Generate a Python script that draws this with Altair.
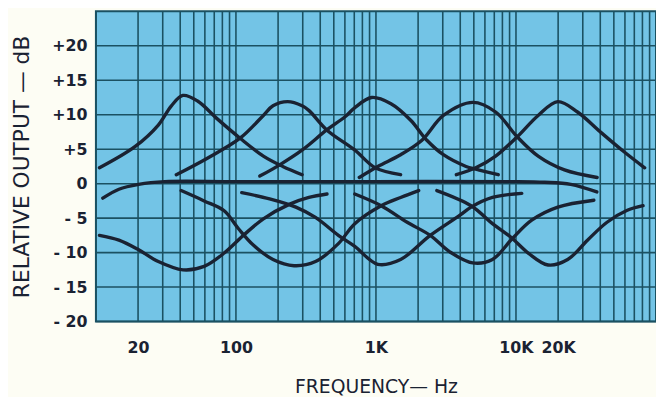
import altair as alt
import pandas as pd

# ---- curves (frequency in Hz, level in dB) ----
BOOST1_F = [10.6, 19.1, 27.9, 34.6, 41.8, 53.2, 73.6, 107, 157, 216, 297]
BOOST1_DB = [2.3, 5.4, 8.5, 11.3, 12.8, 12.0, 9.4, 6.6, 4.0, 2.5, 1.3]

BOOST2_F = [37.5, 62.5, 107, 157, 184, 234, 297, 333, 445, 704, 990, 1500]
BOOST2_DB = [1.3, 3.7, 6.6, 9.9, 11.3, 11.9, 11.3, 10.6, 7.8, 4.9, 2.3, 1.3]

BOOST3_F = [148, 204, 298, 445, 602, 704, 930, 1280, 1770, 2310, 3030, 4400, 5160, 7480]
BOOST3_DB = [1.1, 2.7, 4.9, 7.8, 9.7, 11.0, 12.5, 11.6, 9.2, 6.3, 4.2, 2.5, 2.1, 1.3]

BOOST4_F = [760, 1030, 1500, 2130, 3030, 4910, 7160, 10200, 14400, 22200, 38000]
BOOST4_DB = [0.9, 2.5, 4.2, 6.3, 9.9, 11.8, 10.4, 6.8, 4.0, 2.0, 0.9]

BOOST5_F = [3750, 5160, 7160, 10200, 14400, 19900, 27500, 40100, 58500, 83000]
BOOST5_DB = [1.3, 2.3, 4.0, 6.8, 9.9, 11.9, 10.4, 7.5, 4.7, 2.3]

FLAT_F = [11.2, 14.6, 20.2, 31, 100, 1000, 10000, 16000, 24600, 37800]
FLAT_DB = [-2.1, -0.8, -0.1, 0.3, 0.3, 0.3, 0.3, 0.2, -0.1, -1.2]

CUT1_F = [10.6, 14.6, 20.2, 27.9, 41.8, 59.3, 82, 113, 157, 240, 332, 447]
CUT1_DB = [-7.5, -8.2, -9.6, -11.3, -12.5, -12.0, -10.1, -7.5, -5.1, -3.0, -2.0, -1.5]

CUT2_F = [40.6, 59.3, 82, 104, 133, 184, 260, 370, 539, 706, 1090, 1500, 2020]
CUT2_DB = [-1.0, -2.5, -3.9, -6.5, -8.9, -11.0, -11.9, -11.3, -8.7, -5.8, -3.2, -2.0, -1.0]

CUT3_F = [110, 174, 268, 370, 539, 706, 1030, 1500, 2440, 3960, 4780, 6790, 11000]
CUT3_DB = [-1.3, -2.2, -3.4, -4.9, -7.5, -9.1, -11.7, -11.0, -7.5, -4.6, -3.4, -2.0, -1.4]

CUT4_F = [706, 1090, 1670, 2440, 3370, 4910, 6790, 9380, 12950, 19900, 36000]
CUT4_DB = [-1.5, -3.2, -5.6, -7.5, -9.9, -11.5, -11.0, -8.0, -5.3, -3.4, -2.4]

CUT5_F = [2720, 4780, 6790, 9120, 12300, 16960, 23400, 32400, 44700, 61800, 80800]
CUT5_DB = [-1.0, -3.2, -5.8, -7.7, -10.1, -11.8, -11.0, -8.2, -5.6, -3.9, -3.2]

# grid of the log paper
VGRID = [m * d for d in (10, 100, 1000, 10000) for m in range(1, 10)] + [100000]
HGRID = [-20, -15, -10, -5, 0, 5, 10, 15, 20]
XTICKS = [20, 100, 1000, 10000, 20000]
YTICKS = [-20, -15, -10, -5, 0, 5, 10, 15, 20]

curves = {
    "boost1": (BOOST1_F, BOOST1_DB), "boost2": (BOOST2_F, BOOST2_DB),
    "boost3": (BOOST3_F, BOOST3_DB), "boost4": (BOOST4_F, BOOST4_DB),
    "boost5": (BOOST5_F, BOOST5_DB), "flat": (FLAT_F, FLAT_DB),
    "cut1": (CUT1_F, CUT1_DB), "cut2": (CUT2_F, CUT2_DB),
    "cut3": (CUT3_F, CUT3_DB), "cut4": (CUT4_F, CUT4_DB),
    "cut5": (CUT5_F, CUT5_DB),
}
rows = []
for name, (fs, ds) in curves.items():
    for f, d in zip(fs, ds):
        rows.append({"curve": name, "freq": f, "db": d})
df = pd.DataFrame(rows)

INK = "#1a2232"
GRID = "#1b5162"
FONT = "DejaVu Sans"

x_scale = alt.Scale(type="log", domain=[10, 100000], nice=False)
y_scale = alt.Scale(domain=[-20, 25], nice=False)

x_axis = alt.Axis(
    values=XTICKS, grid=False, ticks=False, domain=False,
    title="FREQUENCY— Hz", titleFont=FONT, titleFontSize=19, titleFontWeight="normal",
    titleColor=INK, titlePadding=23, titleBaseline="top",
    labelFont=FONT, labelFontSize=16, labelFontWeight="bold", labelColor=INK,
    labelPadding=18,
    labelExpr="datum.value >= 1000 ? format(datum.value/1000, 'd') + 'K' : format(datum.value, 'd')",
)
y_axis = alt.Axis(
    values=YTICKS, grid=False, ticks=False, domain=False,
    title="RELATIVE OUTPUT — dB", titleFont=FONT, titleFontSize=22, titleFontWeight="normal",
    titleColor=INK, titlePadding=19,
    labelFont=FONT, labelFontSize=16, labelFontWeight="bold", labelColor=INK,
    labelPadding=9,
    labelExpr="datum.value > 0 ? '+' + format(datum.value, 'd') : (datum.value < 0 ? '- ' + format(-datum.value, 'd') : '0')",
)

X = alt.X("freq:Q", scale=x_scale, axis=x_axis)
Y = alt.Y("db:Q", scale=y_scale, axis=y_axis)

vgrid = alt.Chart(pd.DataFrame({"freq": VGRID})).mark_rule(
    color=GRID, strokeWidth=1.6
).encode(x=X)

hgrid = alt.Chart(pd.DataFrame({"db": HGRID})).mark_rule(
    color=GRID, strokeWidth=1.6
).encode(y=Y)

lines = alt.Chart(df).mark_line(
    color=INK, strokeWidth=3.4, interpolate="catmull-rom", strokeCap="round"
).encode(x=X, y=Y, detail="curve:N")

chart = alt.layer(vgrid, hgrid, lines).properties(
    width=567, height=314,
    autosize=alt.AutoSizeParams(type="none"),
    padding={"left": 89, "top": 1, "right": 0, "bottom": 74},
    background="#fdfdf4",
).configure_view(
    fill="#73c4e6", stroke=GRID, strokeWidth=2
)

chart.save("out.html", embed_options={"renderer": "svg", "actions": False})
